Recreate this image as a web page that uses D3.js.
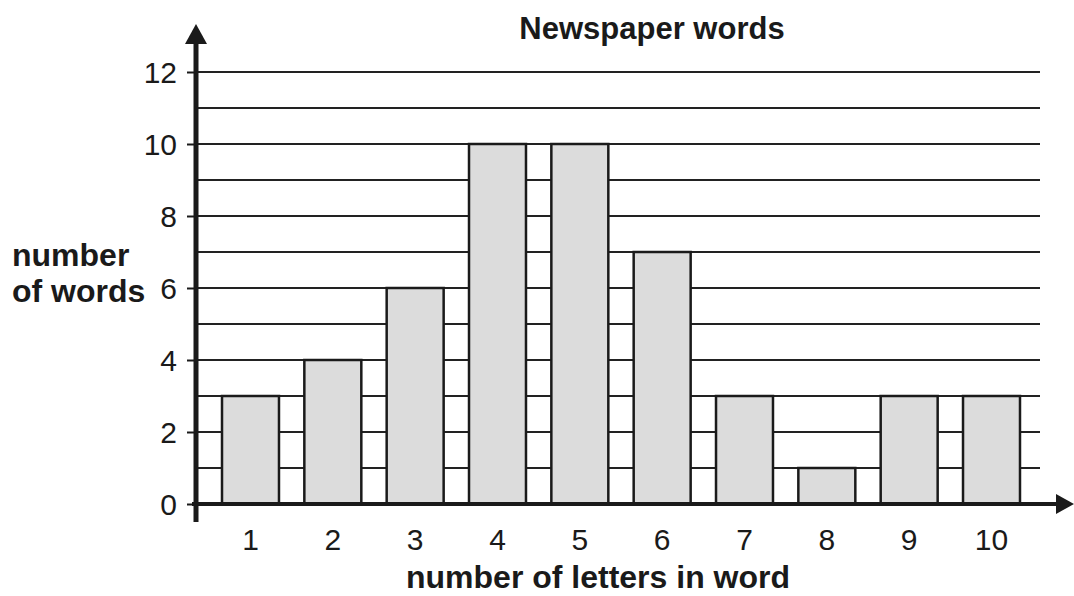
<!DOCTYPE html>
<html><head><meta charset="utf-8">
<script src="https://cdn.jsdelivr.net/npm/d3@7"></script>
<style>body{margin:0;background:#fff}svg{display:block}text{font-family:"Liberation Sans",Arial,sans-serif;fill:#1a1a1a}</style>
</head><body>
<script>
const categories = [1,2,3,4,5,6,7,8,9,10];
const values = [3,4,6,10,10,7,3,1,3,3];
const yTicks = [0,2,4,6,8,10,12];
const gridValues = [1,2,3,4,5,6,7,8,9,10,11,12];
const title = "Newspaper words";
const xTitle = "number of letters in word";
const yTitle = ["number","of words"];

const W=1074,H=596;
const svg=d3.select("body").append("svg").attr("width",W).attr("height",H);
const y=d3.scaleLinear().domain([0,12]).range([504,72]);
const x=d3.scaleBand().domain(categories).range([197,1045]).paddingInner(0.308).paddingOuter(0.3037);
const axX=196;

// gridlines
svg.append("g").selectAll("line").data(gridValues).join("line")
  .attr("x1",axX).attr("x2",1040).attr("y1",d=>y(d)).attr("y2",d=>y(d))
  .attr("stroke","#222").attr("stroke-width",2);

// bars
svg.append("g").selectAll("rect").data(values).join("rect")
  .attr("x",(d,i)=>x(categories[i])).attr("width",x.bandwidth())
  .attr("y",d=>y(d)).attr("height",d=>y(0)-y(d))
  .attr("fill","#dcdcdc").attr("stroke","#1a1a1a").attr("stroke-width",2.5);

// y axis
const ya=d3.axisLeft(y).tickValues(yTicks).tickSize(9).tickPadding(10);
const gy=svg.append("g").attr("transform",`translate(${axX},0)`).call(ya);
gy.select(".domain").remove();
gy.selectAll(".tick line").attr("stroke","#1a1a1a").attr("stroke-width",2);
gy.selectAll(".tick text").style("font-size","30px").style("font-family","'Liberation Sans',Arial,sans-serif").attr("fill","#1a1a1a").attr("dy","0.36em");

// x axis labels
const xa=d3.axisBottom(x).tickSize(0).tickPadding(25);
const gx=svg.append("g").attr("transform",`translate(0,${y(0)})`).call(xa);
gx.select(".domain").remove();
gx.selectAll(".tick text").style("font-size","30px").style("font-family","'Liberation Sans',Arial,sans-serif").attr("fill","#1a1a1a");

// axis lines
svg.append("line").attr("x1",axX).attr("x2",axX).attr("y1",522).attr("y2",40).attr("stroke","#1a1a1a").attr("stroke-width",5);
svg.append("line").attr("x1",192).attr("x2",1060).attr("y1",y(0)).attr("y2",y(0)).attr("stroke","#1a1a1a").attr("stroke-width",4);
svg.append("path").attr("d",`M${axX},24 L${axX+11},44 L${axX-11},44 Z`).attr("fill","#1a1a1a");
svg.append("path").attr("d",`M1074,${y(0)} L1056,${y(0)-10} L1056,${y(0)+10} Z`).attr("fill","#1a1a1a");

// titles
svg.append("text").attr("x",652).attr("y",39).attr("text-anchor","middle").style("font-size","31px").style("font-weight","bold").text(title);
svg.append("text").attr("x",598).attr("y",588).attr("text-anchor","middle").style("font-size","32px").style("font-weight","bold").text(xTitle);
svg.selectAll(".yt").data(yTitle).join("text").attr("class","yt").attr("x",12).attr("y",(d,i)=>266+i*36).style("font-size","32px").style("font-weight","bold").text(d=>d);
</script>
</body></html>
